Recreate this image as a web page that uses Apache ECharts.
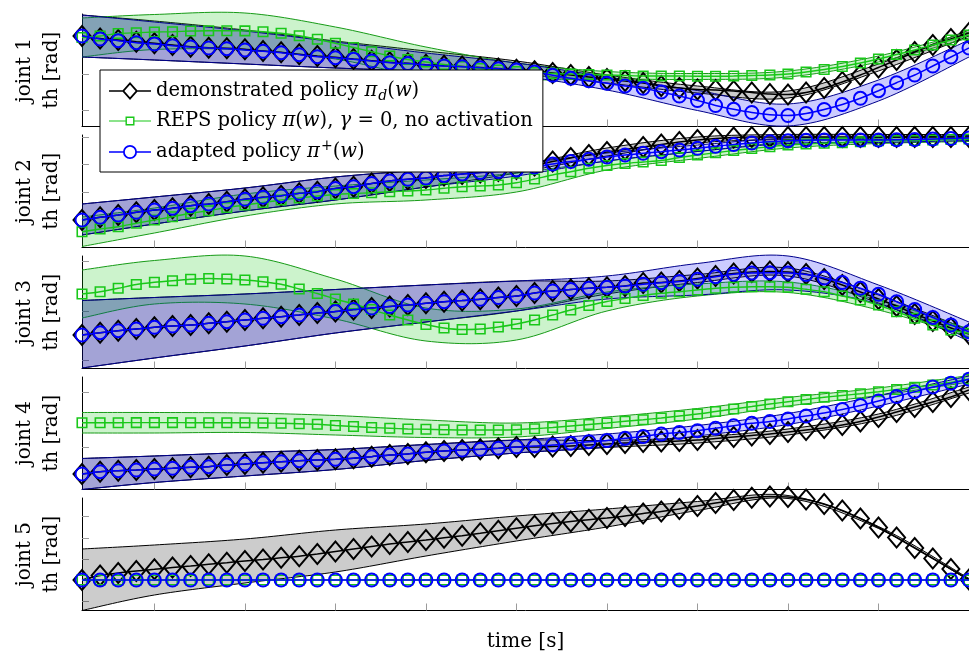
<!DOCTYPE html>
<html>
<head>
<meta charset="utf-8">
<script src="https://cdn.jsdelivr.net/npm/echarts@6/dist/echarts.min.js"></script>
<style>
  html, body { margin: 0; padding: 0; background: #ffffff; }
  #chart { width: 969px; height: 656px; }
</style>
</head>
<body>
<div id="chart"></div>
<script>
// ---- sample times [s] ----
const time = [0.02,0.04,0.06,0.08,0.10,0.12,0.14,0.16,0.18,0.20,0.22,0.24,0.26,0.28,0.30,0.32,0.34,0.36,0.38,0.40,
              0.42,0.44,0.46,0.48,0.50,0.52,0.54,0.56,0.58,0.60,0.62,0.64,0.66,0.68,0.70,0.72,0.74,0.76,0.78,0.80,
              0.82,0.84,0.86,0.88,0.90,0.92,0.94,0.96,0.98,1.00];
// times at which the confidence bands are sampled
const bandTime = [0.02,0.1,0.2,0.3,0.4,0.5,0.6,0.7,0.8,0.9,1.0];
const xTicks = [0.1,0.2,0.3,0.4,0.5,0.6,0.7,0.8,0.9];

const jointNames = ['joint 1','joint 2','joint 3','joint 4','joint 5'];
const unitLabel = 'th [rad]';
const timeLabel = 'time [s]';

// ---- joint 1 ----
const j1Demo  = [0.905,0.880,0.865,0.848,0.832,0.815,0.798,0.788,0.782,0.772,0.755,0.742,0.722,0.705,0.692,0.675,0.658,0.642,0.632,0.618,
                 0.608,0.600,0.590,0.580,0.568,0.553,0.535,0.515,0.495,0.475,0.455,0.435,0.405,0.385,0.370,0.365,0.355,0.340,0.325,0.320,
                 0.340,0.385,0.445,0.515,0.590,0.665,0.745,0.815,0.875,0.935];
const j1Reps  = [0.890,0.905,0.930,0.938,0.945,0.948,0.955,0.958,0.958,0.956,0.948,0.932,0.908,0.872,0.832,0.790,0.748,0.705,0.670,0.645,
                 0.620,0.600,0.580,0.565,0.550,0.540,0.530,0.525,0.520,0.515,0.510,0.505,0.505,0.505,0.502,0.502,0.505,0.510,0.515,0.525,
                 0.545,0.570,0.600,0.635,0.675,0.720,0.765,0.815,0.865,0.915];
const j1Adapt = [0.905,0.875,0.858,0.838,0.825,0.808,0.795,0.785,0.778,0.765,0.752,0.738,0.718,0.698,0.688,0.672,0.655,0.638,0.630,0.615,
                 0.605,0.598,0.588,0.578,0.565,0.545,0.512,0.482,0.457,0.432,0.405,0.382,0.345,0.305,0.260,0.210,0.172,0.140,0.118,0.110,
                 0.130,0.170,0.220,0.282,0.358,0.438,0.515,0.605,0.695,0.785];
const j1DemoHi  = [1.115,1.055,0.965,0.855,0.755,0.655,0.515,0.405,0.355,0.625,0.965];
const j1DemoLo  = [0.695,0.665,0.625,0.585,0.555,0.525,0.435,0.335,0.285,0.555,0.905];
const j1RepsHi  = [1.085,1.120,1.135,0.995,0.795,0.635,0.550,0.530,0.555,0.705,0.945];
const j1RepsLo  = [0.695,0.770,0.765,0.675,0.495,0.465,0.475,0.470,0.495,0.645,0.885];
const j1AdaptHi = [1.115,1.045,0.955,0.845,0.735,0.635,0.495,0.360,0.225,0.465,0.865];
const j1AdaptLo = [0.695,0.665,0.625,0.585,0.545,0.505,0.365,0.160,0.005,0.255,0.695];
const yTicks1 = [0.158,0.525,0.892];

// ---- joint 2 ----
const j2Demo  = [0.275,0.302,0.325,0.352,0.375,0.392,0.418,0.435,0.458,0.482,0.502,0.518,0.542,0.558,0.590,0.608,0.640,0.665,0.682,0.695,
                 0.720,0.735,0.750,0.765,0.785,0.820,0.860,0.895,0.925,0.955,0.980,1.005,1.030,1.055,1.075,1.090,1.100,1.105,1.105,1.105,
                 1.105,1.105,1.105,1.105,1.105,1.105,1.105,1.105,1.105,1.105];
const j2Reps  = [0.158,0.185,0.208,0.242,0.275,0.308,0.342,0.368,0.400,0.425,0.450,0.475,0.495,0.515,0.530,0.540,0.548,0.558,0.565,0.575,
                 0.592,0.608,0.615,0.625,0.648,0.685,0.725,0.758,0.792,0.820,0.840,0.855,0.870,0.900,0.925,0.948,0.970,0.990,1.008,1.025,
                 1.035,1.042,1.048,1.058,1.068,1.070,1.070,1.075,1.080,1.085];
const j2Adapt = [0.275,0.302,0.325,0.352,0.375,0.392,0.418,0.435,0.458,0.482,0.502,0.518,0.542,0.558,0.590,0.608,0.640,0.665,0.682,0.695,
                 0.720,0.735,0.750,0.760,0.775,0.805,0.835,0.860,0.882,0.905,0.925,0.942,0.958,0.975,0.992,1.012,1.030,1.045,1.058,1.068,
                 1.073,1.075,1.075,1.075,1.075,1.078,1.080,1.085,1.090,1.095];
const j2DemoHi  = [0.435,0.505,0.595,0.705,0.775,0.825,0.995,1.105,1.130,1.130,1.130];
const j2DemoLo  = [0.125,0.235,0.365,0.475,0.605,0.745,0.915,1.045,1.080,1.080,1.080];
const j2RepsHi  = [0.305,0.395,0.535,0.615,0.675,0.745,0.865,0.960,1.055,1.095,1.110];
const j2RepsLo  = [0.010,0.145,0.315,0.435,0.475,0.555,0.775,0.890,0.995,1.040,1.060];
const j2AdaptHi = [0.435,0.505,0.595,0.705,0.775,0.835,0.945,1.025,1.095,1.100,1.120];
const j2AdaptLo = [0.125,0.235,0.365,0.475,0.605,0.715,0.865,0.960,1.040,1.050,1.070];
const yTicks2 = [0.278,0.552,0.832,1.098];

// ---- joint 3 ----
const j3Demo  = [0.335,0.358,0.378,0.395,0.412,0.425,0.435,0.452,0.468,0.485,0.502,0.518,0.535,0.555,0.570,0.590,0.605,0.620,0.635,0.652,
                 0.668,0.680,0.692,0.710,0.725,0.755,0.775,0.790,0.802,0.812,0.825,0.855,0.860,0.875,0.900,0.925,0.950,0.965,0.970,0.965,
                 0.945,0.895,0.835,0.765,0.695,0.625,0.545,0.475,0.405,0.345];
const j3Reps  = [0.745,0.768,0.802,0.840,0.862,0.878,0.892,0.900,0.895,0.885,0.868,0.842,0.795,0.750,0.695,0.645,0.590,0.535,0.485,0.440,
                 0.405,0.390,0.395,0.415,0.445,0.485,0.535,0.585,0.630,0.670,0.700,0.730,0.752,0.768,0.785,0.802,0.812,0.818,0.818,0.812,
                 0.792,0.768,0.725,0.685,0.635,0.568,0.502,0.435,0.385,0.352];
const j3Adapt = [0.335,0.358,0.378,0.395,0.412,0.425,0.435,0.452,0.468,0.485,0.502,0.518,0.535,0.555,0.570,0.590,0.605,0.620,0.635,0.652,
                 0.668,0.680,0.692,0.710,0.725,0.755,0.775,0.790,0.802,0.812,0.825,0.842,0.858,0.870,0.892,0.918,0.942,0.955,0.958,0.955,
                 0.940,0.905,0.860,0.802,0.742,0.668,0.590,0.510,0.435,0.368];
const j3DemoHi  = [0.680,0.710,0.745,0.790,0.835,0.875,0.875,0.940,1.005,0.735,0.385];
const j3DemoLo  = [0.005,0.105,0.225,0.355,0.465,0.575,0.745,0.860,0.925,0.655,0.305];
const j3RepsHi  = [0.985,1.080,1.125,0.895,0.605,0.595,0.765,0.845,0.865,0.685,0.395];
const j3RepsLo  = [0.505,0.645,0.645,0.495,0.275,0.285,0.575,0.725,0.760,0.585,0.315];
const j3AdaptHi = [0.680,0.710,0.745,0.790,0.835,0.875,0.925,1.050,1.125,0.835,0.465];
const j3AdaptLo = [0.005,0.105,0.225,0.355,0.465,0.575,0.695,0.735,0.785,0.645,0.275];
const yTicks3 = [0.082,0.575,1.068];

// ---- joint 4 ----
const j4Demo  = [0.155,0.178,0.188,0.195,0.205,0.212,0.222,0.228,0.245,0.255,0.268,0.278,0.288,0.295,0.302,0.312,0.328,0.345,0.355,0.372,
                 0.385,0.395,0.402,0.412,0.425,0.425,0.430,0.435,0.445,0.455,0.465,0.475,0.480,0.485,0.495,0.510,0.525,0.540,0.555,0.575,
                 0.595,0.615,0.645,0.680,0.725,0.775,0.825,0.875,0.925,0.995];
const j4Reps  = [0.668,0.668,0.668,0.669,0.669,0.669,0.668,0.668,0.668,0.667,0.665,0.662,0.658,0.652,0.640,0.630,0.620,0.612,0.605,0.602,
                 0.598,0.595,0.595,0.595,0.598,0.608,0.620,0.635,0.650,0.665,0.682,0.698,0.715,0.735,0.755,0.780,0.805,0.830,0.855,0.878,
                 0.900,0.922,0.940,0.958,0.978,1.000,1.022,1.045,1.070,1.105];
const j4Adapt = [0.155,0.178,0.188,0.195,0.205,0.212,0.222,0.228,0.245,0.255,0.268,0.278,0.288,0.295,0.302,0.312,0.328,0.345,0.355,0.372,
                 0.385,0.395,0.402,0.412,0.425,0.435,0.445,0.462,0.478,0.490,0.512,0.530,0.555,0.570,0.588,0.612,0.638,0.662,0.680,0.705,
                 0.735,0.765,0.800,0.840,0.885,0.930,0.978,1.025,1.062,1.102];
const j4DemoHi  = [0.310,0.335,0.370,0.400,0.450,0.495,0.490,0.525,0.605,0.755,1.025];
const j4DemoLo  = [0.000,0.070,0.135,0.200,0.290,0.365,0.420,0.465,0.545,0.695,0.965];
const j4RepsHi  = [0.770,0.770,0.765,0.740,0.695,0.665,0.725,0.810,0.920,1.015,1.140];
const j4RepsLo  = [0.565,0.565,0.570,0.545,0.520,0.525,0.610,0.705,0.835,0.940,1.075];
const j4AdaptHi = [0.310,0.335,0.370,0.400,0.450,0.495,0.555,0.640,0.760,0.940,1.135];
const j4AdaptLo = [0.000,0.070,0.135,0.200,0.290,0.365,0.425,0.535,0.650,0.835,1.055];
const yTicks4 = [0.418,0.972];

// ---- joint 5 ----
const j5Demo  = [0.305,0.350,0.375,0.395,0.412,0.430,0.445,0.462,0.478,0.495,0.510,0.527,0.543,0.565,0.590,0.615,0.640,0.665,0.685,0.705,
                 0.727,0.748,0.772,0.797,0.822,0.847,0.870,0.890,0.908,0.925,0.945,0.970,0.990,1.015,1.045,1.075,1.105,1.128,1.140,1.135,
                 1.110,1.065,1.000,0.920,0.830,0.730,0.625,0.520,0.415,0.310];
const j5Reps  = [0.305,0.305,0.305,0.305,0.305,0.305,0.305,0.305,0.305,0.305,0.305,0.305,0.305,0.305,0.305,0.305,0.305,0.305,0.305,0.305,
                 0.305,0.305,0.305,0.305,0.305,0.305,0.305,0.305,0.305,0.305,0.305,0.305,0.305,0.305,0.305,0.305,0.305,0.305,0.305,0.305,
                 0.305,0.305,0.305,0.305,0.305,0.305,0.305,0.305,0.305,0.305];
const j5Adapt = [0.305,0.305,0.305,0.305,0.305,0.305,0.305,0.305,0.305,0.305,0.305,0.305,0.305,0.305,0.305,0.305,0.305,0.305,0.305,0.305,
                 0.305,0.305,0.305,0.305,0.305,0.305,0.305,0.305,0.305,0.305,0.305,0.305,0.305,0.305,0.305,0.305,0.305,0.305,0.305,0.305,
                 0.305,0.305,0.305,0.305,0.305,0.305,0.305,0.305,0.305,0.305];
const j5DemoHi  = [0.615,0.655,0.715,0.805,0.865,0.945,1.015,1.090,1.150,0.840,0.320];
const j5DemoLo  = [0.000,0.155,0.275,0.385,0.545,0.695,0.835,1.000,1.120,0.820,0.300];
const yTicks5 = [0.088,0.305,0.512,0.722,0.938];

// ---- legend texts (rich text markup) ----
const legendText = {
  demo:  'demonstrated policy {m|π}{sub|d}({m|w})',
  reps:  'REPS policy {m|π}({m|w}), {m|γ} = 0, no activation',
  adapt: 'adapted policy {m|π}{sup|+}({m|w})'
};

// ---- layout & styling ----
const FONT = 'DejaVu Serif';
const gridTops = [14, 135, 256, 377, 498];
const gridHeight = 112.5;

const joints = [
  { demo: j1Demo, reps: j1Reps, adapt: j1Adapt, ticks: yTicks1,
    bands: { demo: [j1DemoLo, j1DemoHi], reps: [j1RepsLo, j1RepsHi], adapt: [j1AdaptLo, j1AdaptHi] } },
  { demo: j2Demo, reps: j2Reps, adapt: j2Adapt, ticks: yTicks2,
    bands: { demo: [j2DemoLo, j2DemoHi], reps: [j2RepsLo, j2RepsHi], adapt: [j2AdaptLo, j2AdaptHi] } },
  { demo: j3Demo, reps: j3Reps, adapt: j3Adapt, ticks: yTicks3,
    bands: { demo: [j3DemoLo, j3DemoHi], reps: [j3RepsLo, j3RepsHi], adapt: [j3AdaptLo, j3AdaptHi] } },
  { demo: j4Demo, reps: j4Reps, adapt: j4Adapt, ticks: yTicks4,
    bands: { demo: [j4DemoLo, j4DemoHi], reps: [j4RepsLo, j4RepsHi], adapt: [j4AdaptLo, j4AdaptHi] } },
  { demo: j5Demo, reps: j5Reps, adapt: j5Adapt, ticks: yTicks5,
    bands: { demo: [j5DemoLo, j5DemoHi] } }
];

const STYLE = {
  demo:  { line: '#000000', edge: '#000000', fill: 'rgba(0,0,0,0.2)',
           symbol: 'diamond', size: [17, 20], border: 2, width: 1.5 },
  reps:  { line: '#19c819', edge: '#179b17', fill: 'rgba(25,200,25,0.22)',
           symbol: 'rect', size: 9.5, border: 1.6, width: 1.4 },
  adapt: { line: '#0000ff', edge: '#00008c', fill: 'rgba(0,0,255,0.2)',
           symbol: 'circle', size: 13, border: 2, width: 1.5 }
};

// legend icons: line with a hollow marker in the middle
const ICONS = {
  demo:  'path://M0 8.2L13.5 8.2L13.5 9.8L0 9.8Z M28.5 8.2L42 8.2L42 9.8L28.5 9.8Z M21 0L29 9L21 18L13 9Z M21 2.7L15.4 9L21 15.3L26.6 9Z',
  reps:  'path://M0 3.9L17 3.9L17 5.1L0 5.1Z M25 3.9L42 3.9L42 5.1L25 5.1Z M16.5 0L25.5 0L25.5 9L16.5 9Z M17.9 1.4L17.9 7.6L24.1 7.6L24.1 1.4Z',
  adapt: 'path://M0 6.25L14.5 6.25L14.5 7.75L0 7.75Z M27.5 6.25L42 6.25L42 7.75L27.5 7.75Z M14 7A7 7 0 0 1 28 7A7 7 0 0 1 14 7Z M15.8 7A5.2 5.2 0 0 0 26.2 7A5.2 5.2 0 0 0 15.8 7Z'
};

// smooth curve (Catmull-Rom) through projected points, for band edges
function smoothPath(pts) {
  const out = [];
  const n = pts.length;
  const STEPS = 16;
  for (let i = 0; i < n - 1; i++) {
    const p0 = pts[Math.max(i - 1, 0)], p1 = pts[i], p2 = pts[i + 1], p3 = pts[Math.min(i + 2, n - 1)];
    const c1 = [p1[0] + (p2[0] - p0[0]) / 6, p1[1] + (p2[1] - p0[1]) / 6];
    const c2 = [p2[0] - (p3[0] - p1[0]) / 6, p2[1] - (p3[1] - p1[1]) / 6];
    for (let s = 0; s < STEPS; s++) {
      const u = s / STEPS, v = 1 - u;
      const a = v * v * v, b = 3 * v * v * u, c = 3 * v * u * u, d = u * u * u;
      out.push([a * p1[0] + b * c1[0] + c * c2[0] + d * p2[0],
                a * p1[1] + b * c1[1] + c * c2[1] + d * p2[1]]);
    }
  }
  out.push(pts[n - 1]);
  return out;
}

function bandSeries(g, lo, hi, s) {
  return {
    type: 'custom', xAxisIndex: g, yAxisIndex: g, clip: false, silent: true, z: 1,
    data: bandTime.map((t, i) => [t, lo[i], hi[i]]),
    encode: { x: 0, y: [1, 2] },
    renderItem: function (params, api) {
      if (params.dataIndex !== 0) return null;
      const up = smoothPath(bandTime.map((t, i) => api.coord([t, hi[i]])));
      const dn = smoothPath(bandTime.map((t, i) => api.coord([t, lo[i]])));
      return {
        type: 'group',
        children: [
          { type: 'polygon', shape: { points: up.concat(dn.slice().reverse()) },
            style: { fill: s.fill, stroke: null } },
          { type: 'polyline', shape: { points: up }, style: { fill: null, stroke: s.edge, lineWidth: 1 } },
          { type: 'polyline', shape: { points: dn }, style: { fill: null, stroke: s.edge, lineWidth: 1 } }
        ]
      };
    }
  };
}

const series = [];
const keys = ['demo', 'reps', 'adapt'];

joints.forEach((j, g) => {
  keys.forEach(k => {
    const band = j.bands[k];
    if (band) series.push(bandSeries(g, band[0], band[1], STYLE[k]));
  });
  keys.forEach((k, idx) => {
    const s = STYLE[k];
    series.push({
      type: 'line', name: k, xAxisIndex: g, yAxisIndex: g,
      data: time.map((t, i) => [t, j[k][i]]),
      symbol: s.symbol, symbolSize: s.size, showSymbol: true, showAllSymbol: true,
      smooth: 0.25, clip: false, silent: true, z: 2 + idx,
      lineStyle: { color: s.line, width: s.width },
      itemStyle: { color: 'rgba(0,0,0,0)', borderColor: s.line, borderWidth: s.border }
    });
  });
});

const nameStyle = { fontFamily: FONT, fontSize: 20, color: '#000000' };

const option = {
  backgroundColor: '#ffffff',
  animation: false,
  grid: gridTops.map(t => ({ left: 82, right: 0, top: t, height: gridHeight })),
  xAxis: joints.map((j, g) => ({
    type: 'value', gridIndex: g, min: 0.02, max: 1.0,
    axisLine: { show: true, onZero: false, lineStyle: { color: '#000000', width: 1 } },
    axisTick: { show: true, inside: true, length: 7, customValues: xTicks,
                lineStyle: { color: '#9a9a9a', width: 1 } },
    axisLabel: { show: false }, splitLine: { show: false },
    name: g === joints.length - 1 ? timeLabel : '',
    nameLocation: 'middle', nameGap: 21, nameTextStyle: nameStyle
  })),
  yAxis: joints.map((j, g) => ({
    type: 'value', gridIndex: g, min: 0, max: 1.125,
    axisLine: { show: true, onZero: false, lineStyle: { color: '#000000', width: 1 } },
    axisTick: { show: true, inside: true, length: 7, customValues: j.ticks,
                lineStyle: { color: '#9a9a9a', width: 1 } },
    axisLabel: { show: false }, splitLine: { show: false },
    name: jointNames[g] + '\n' + unitLabel,
    nameLocation: 'middle', nameRotate: 90, nameGap: 17,
    nameTextStyle: Object.assign({ lineHeight: 27 }, nameStyle)
  })),
  legend: {
    orient: 'vertical', left: 100, top: 70, z: 10,
    selectedMode: false,
    itemWidth: 42, itemHeight: 18, itemGap: 6, symbolKeepAspect: true,
    padding: [9, 10, 8, 9],
    borderColor: '#000000', borderWidth: 1, backgroundColor: '#ffffff',
    data: keys.map(k => ({ name: k, icon: ICONS[k], itemStyle: { color: STYLE[k].line, borderWidth: 0 } })),
    formatter: n => legendText[n],
    textStyle: {
      fontFamily: FONT, fontSize: 19.5, color: '#000000', lineHeight: 24,
      rich: {
        m:   { fontFamily: FONT, fontSize: 19.5, fontStyle: 'italic', color: '#000000' },
        sub: { fontFamily: FONT, fontSize: 14, fontStyle: 'italic', color: '#000000', padding: [10, 0, 0, 1] },
        sup: { fontFamily: FONT, fontSize: 14, color: '#000000', padding: [0, 0, 12, 1] }
      }
    }
  },
  series: series
};

const chart = echarts.init(document.getElementById('chart'), null, { renderer: 'canvas', width: 969, height: 656 });
chart.setOption(option);
</script>
</body>
</html>
